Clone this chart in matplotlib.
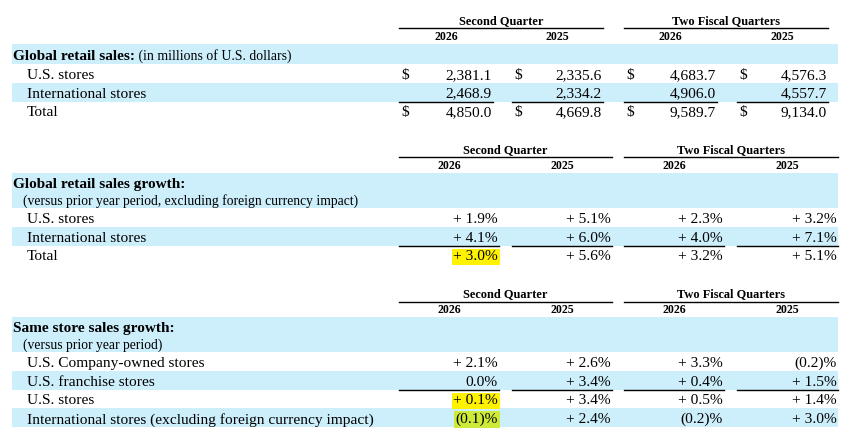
"""
Retail sales table (Second Quarter / Two Fiscal Quarters) redrawn with matplotlib.
"""
import matplotlib
matplotlib.use("Agg")
import matplotlib.pyplot as plt

# ============================================================
# DATA
# ============================================================
GROUPS = ["Second Quarter", "Two Fiscal Quarters"]
YEARS  = ["2026", "2025", "2026", "2025"]

sales_title    = "Global retail sales:"
sales_subtitle = " (in millions of U.S. dollars)"
sales_rows     = ["U.S. stores", "International stores", "Total"]
sales_values   = [
    ["2,381.1", "2,335.6", "4,683.7", "4,576.3"],
    ["2,468.9", "2,334.2", "4,906.0", "4,557.7"],
    ["4,850.0", "4,669.8", "9,589.7", "9,134.0"],
]

growth_title    = "Global retail sales growth:"
growth_subtitle = "(versus prior year period, excluding foreign currency impact)"
growth_rows     = ["U.S. stores", "International stores", "Total"]
growth_values   = [
    ["+ 1.9%", "+ 5.1%", "+ 2.3%", "+ 3.2%"],
    ["+ 4.1%", "+ 6.0%", "+ 4.0%", "+ 7.1%"],
    ["+ 3.0%", "+ 5.6%", "+ 3.2%", "+ 5.1%"],
]

sss_title    = "Same store sales growth:"
sss_subtitle = "(versus prior year period)"
sss_rows     = ["U.S. Company-owned stores", "U.S. franchise stores", "U.S. stores",
                "International stores (excluding foreign currency impact)"]
sss_values   = [
    ["+ 2.1%", "+ 2.6%", "+ 3.3%", "(0.2)%"],
    ["0.0%",   "+ 3.4%", "+ 0.4%", "+ 1.5%"],
    ["+ 0.1%", "+ 3.4%", "+ 0.5%", "+ 1.4%"],
    ["(0.1)%", "+ 2.4%", "(0.2)%", "+ 3.0%"],
]

# highlighted cells: (row, col)
growth_highlight = [(2, 0)]
sss_highlight    = [(2, 0), (3, 0)]

# ============================================================
# STYLE
# ============================================================
W, H = 853, 444
FONT      = "Liberation Serif"
BAND      = "#cdeefb"
HILITE    = "#fff200"
HILITE_BL = "#cdea38"
ROW_H     = 18.8
FS_ROW    = 11.1


def draw_section(ax, top, cols, title, subtitle, rows, values,
                 two_line, dollar=False, underline_after=1, highlight=()):
    # group headers + underline
    for g, name in enumerate(GROUPS):
        x0 = cols[2 * g][0]
        x1 = cols[2 * g + 1][1]
        ax.text((x0 + x1) / 2, top, name, ha="center", va="center",
                fontsize=8.9, fontweight="bold", family=FONT)
        ax.plot([x0, x1], [top + 7.5, top + 7.5], color="black", lw=1.0)
    for (x0, x1), yr in zip(cols, YEARS):
        ax.text((x0 + x1) / 2, top + 15.5, yr, ha="center", va="center",
                fontsize=8.6, fontweight="bold", family=FONT)

    band_top = top + 23
    band_right = 838
    title_h = 35 if two_line else 20
    ax.add_patch(plt.Rectangle((12, band_top), band_right - 12, title_h,
                               facecolor=BAND, edgecolor="none", zorder=0))
    if two_line:
        ax.text(13, band_top + 11, title, ha="left", va="center",
                fontsize=11.0, fontweight="bold", family=FONT)
        ax.text(23, band_top + 28, subtitle, ha="left", va="center",
                fontsize=9.8, family=FONT)
    else:
        t = ax.text(13, band_top + 12.5, title, ha="left", va="center",
                    fontsize=11.0, fontweight="bold", family=FONT)
        ax.annotate(subtitle, xycoords=t, xy=(1, 0.5), ha="left", va="center",
                    fontsize=9.9, family=FONT)

    y = band_top + title_h
    for i, (label, vals) in enumerate(zip(rows, values)):
        if i % 2 == 1:
            ax.add_patch(plt.Rectangle((12, y), band_right - 12, ROW_H,
                                       facecolor=BAND, edgecolor="none", zorder=0))
        yc = y + ROW_H / 2 + 1.8
        ax.text(27, yc, label, ha="left", va="center", fontsize=FS_ROW, family=FONT)
        for j, ((x0, x1), v) in enumerate(zip(cols, vals)):
            t = ax.text(x1 - 1, yc, v, ha="right", va="center", fontsize=FS_ROW,
                        family=FONT, zorder=3)
            if (i, j) in highlight:
                t.set_bbox(dict(facecolor=HILITE_BL if i % 2 == 1 else HILITE,
                                edgecolor="none", boxstyle="square,pad=0.1"))
            if dollar and i in (0, len(rows) - 1):
                ax.text(x0 + 2, yc, "$", ha="left", va="center", fontsize=FS_ROW,
                        family=FONT)
        if i == underline_after:
            for x0, x1 in cols:
                ax.plot([x0, x1], [y + ROW_H, y + ROW_H], color="black", lw=1.0,
                        zorder=4)
        y += ROW_H


def main() -> None:
    fig = plt.figure(figsize=(W / 100, H / 100), dpi=100)
    ax = fig.add_axes([0, 0, 1, 1])
    ax.set_xlim(0, W)
    ax.set_ylim(H, 0)
    ax.axis("off")

    cols_money = [(399, 493), (512, 603), (624, 717), (737, 828)]
    cols_pct   = [(399, 499), (512, 612), (624, 724), (737, 838)]

    draw_section(ax, 21, cols_money, sales_title, sales_subtitle, sales_rows,
                 sales_values, two_line=False, dollar=True)
    draw_section(ax, 150, cols_pct, growth_title, growth_subtitle, growth_rows,
                 growth_values, two_line=True, highlight=growth_highlight)
    draw_section(ax, 294, cols_pct, sss_title, sss_subtitle, sss_rows,
                 sss_values, two_line=True, highlight=sss_highlight)

    fig.savefig("out.png", dpi=100, facecolor="white")
    plt.close(fig)


if __name__ == "__main__":
    main()
